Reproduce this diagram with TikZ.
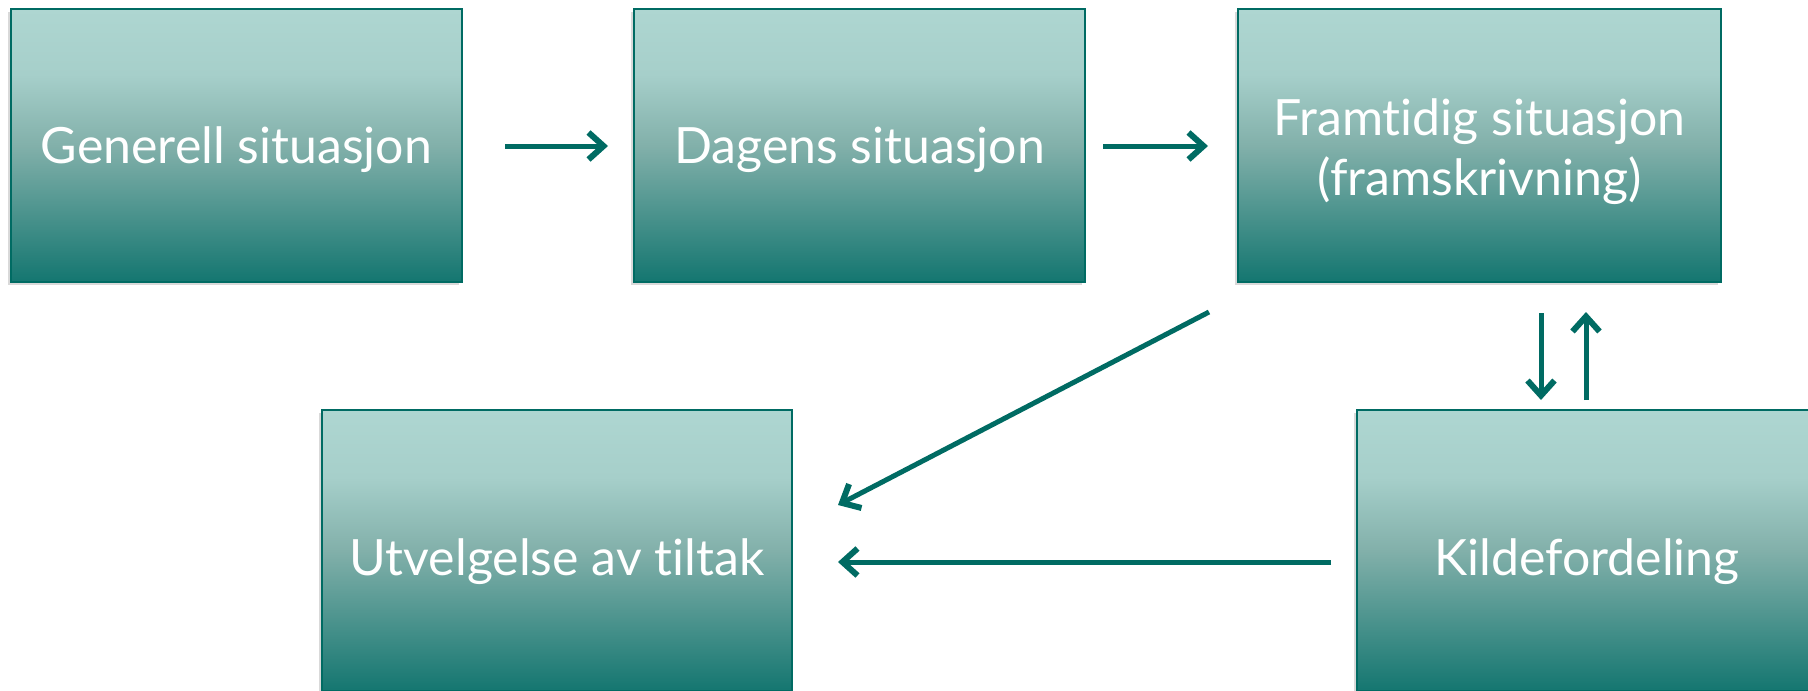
\documentclass[tikz,border=0pt]{standalone}
\usepackage{fontspec}
\setmainfont[Ligatures={NoCommon}]{Lato}
\usetikzlibrary{arrows.meta,shadows}

\definecolor{tealline}{HTML}{006B63}
\definecolor{tealdark}{HTML}{147670}
\definecolor{tealmid}{HTML}{82B0AA}
\definecolor{teallight}{HTML}{AED6D1}
\definecolor{teallight2}{HTML}{A6CFCA}

% vertical fade: light at the top, dark teal at the bottom
\pgfdeclareverticalshading{tealfade}{100bp}{%
  color(0bp)=(tealdark); color(25bp)=(tealdark);
  color(50bp)=(tealmid); color(63bp)=(teallight2);
  color(75bp)=(teallight); color(100bp)=(teallight)}

% lower the printed text without changing the box size used for centring
\newcommand{\lowertext}[2]{\raisebox{-#1}[\height][\depth]{#2}}

\tikzset{
  stepbox/.style={draw=tealline, line width=2.5pt, shading=tealfade,
    rectangle, inner sep=0pt, align=center, text=white,
    font=\fontsize{50}{60}\selectfont,
    drop shadow={shadow xshift=-3pt, shadow yshift=-3pt, opacity=0.25, fill=black!60}},
  flow/.style={draw=tealline, line width=5pt,
    -{Straight Barb[length=15pt,width=27pt,line width=6pt]}},
}

\begin{document}
\begin{tikzpicture}[x=1pt,y=-1pt]
  \useasboundingbox (0,0) rectangle (1808,691);

  % boxes of the upper row
  \node[stepbox, minimum width=451pt, minimum height=273pt] (gen) at (236.5,145.5) {\lowertext{4pt}{Generell situasjon}};
  \node[stepbox, minimum width=451pt, minimum height=273pt] (dag) at (859.5,145.5) {\lowertext{4pt}{Dagens situasjon}};
  \node[stepbox, minimum width=483pt, minimum height=273pt] (fram) at (1479.5,145.5)
    {\lowertext{8pt}{\begin{tabular}{@{}c@{}}Framtidig situasjon\\(framskrivning)\end{tabular}}};
  % boxes of the lower row, reaching the bottom edge
  \node[stepbox, minimum width=470pt, minimum height=281pt] (utv) at (557,550.5) {\lowertext{11pt}{Utvelgelse av tiltak}};
  \node[stepbox, minimum width=460pt, minimum height=281pt] (kilde) at (1587,550.5) {\lowertext{11pt}{Kildefordeling}};

  % free arrow ends
  \coordinate (a1s) at (505,146);  \coordinate (a1e) at (608,146);
  \coordinate (a2s) at (1103,146); \coordinate (a2e) at (1208,146);
  \coordinate (dgs) at (1209,312); \coordinate (dge) at (838,505);
  \coordinate (hs) at (1331,562);  \coordinate (he) at (838,562);
  \coordinate (ds) at (1541,313);  \coordinate (de) at (1541,400);
  \coordinate (us) at (1586,400);  \coordinate (ue) at (1586,312);

  % connectors
  \draw[flow] (a1s) -- (a1e);
  \draw[flow] (a2s) -- (a2e);
  \draw[flow] (dgs) -- (dge);
  \draw[flow] (hs) -- (he);
  \draw[flow] (ds) -- (de);
  \draw[flow] (us) -- (ue);
\end{tikzpicture}
\end{document}
